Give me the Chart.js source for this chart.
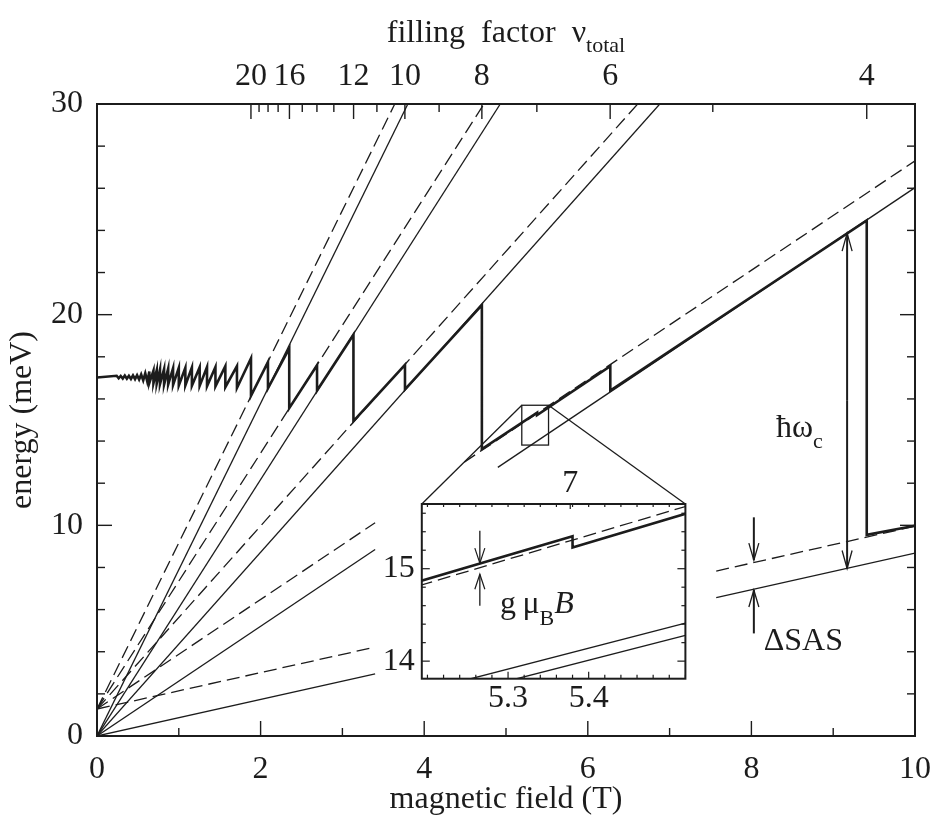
<!DOCTYPE html>
<html>
<head>
<meta charset="utf-8">
<script src="https://cdn.jsdelivr.net/npm/chart.js@4.4.1/dist/chart.umd.min.js"></script>
<style>
html,body{margin:0;padding:0;background:#fff;}
#wrap{position:relative;width:933px;height:822px;overflow:hidden;}
#main{position:absolute;left:0;top:0;}
#inset{position:absolute;left:340px;top:440px;}
</style>
</head>
<body>
<div id="wrap">
<canvas id="main" width="933" height="822"></canvas>
<canvas id="inset" width="360" height="290"></canvas>
</div>
<script>
// ---------------- data ----------------
const fieldTicks = [0, 2, 4, 6, 8, 10];          // magnetic field (T)
const energyTicks = [0, 10, 20, 30];              // energy (meV)
const nuTimesField = 37.64;
const nuLabeled = [20, 16, 12, 10, 8, 6, 4];
const nuMinor = [19, 18, 17, 15, 14, 13, 11, 9, 7, 5];

// Fermi energy (thick sawtooth)
const fermiB = [0, 0.24, 0.265, 0.29, 0.315, 0.34, 0.365, 0.39, 0.415, 0.44, 0.465, 0.49, 0.515, 0.54, 0.565, 0.59, 0.615,
  0.64, 0.64, 0.69, 0.69, 0.73, 0.73, 0.77, 0.77, 0.82, 0.82, 0.87, 0.87, 0.93, 0.93, 1.00, 1.00, 1.08, 1.08,
  1.16, 1.16, 1.255, 1.255, 1.345, 1.345, 1.448, 1.448, 1.569, 1.569, 1.711, 1.711, 1.8825, 1.8825, 2.09, 2.09,
  2.35, 2.35, 2.69, 2.69, 3.135, 3.135, 3.765, 3.765, 4.705, 4.705, 5.38, 5.38, 6.275, 6.275, 9.41, 9.41, 10];
const fermiE = [17.02, 17.10, 16.98, 17.09, 16.97, 17.11, 16.96, 17.10, 16.95, 17.12, 16.94, 17.13, 16.92, 17.16, 16.88, 17.22, 16.82,
  17.30, 16.76, 17.34, 16.74, 17.36, 16.72, 17.40, 16.70, 17.42, 16.68, 17.44, 16.68, 17.46, 16.66, 17.48, 16.64, 17.48, 16.64,
  17.50, 16.62, 17.50, 16.62, 17.52, 16.60, 17.52, 16.60, 17.56, 16.56, 17.56, 16.52, 17.93, 16.15, 17.75, 16.50,
  18.40, 15.56, 17.60, 16.40, 19.05, 14.95, 17.62, 16.45, 20.45, 13.62, 15.35, 15.23, 17.55, 16.40, 24.47, 9.55, 9.98];

// Landau levels: solid = symmetric (S), dashed = antisymmetric (A); [field, energy] end points
const levelS0 = [[0, 0], [3.40, 2.95]];
const levelS0high = [[7.57, 6.57], [10, 8.68]];
const levelS1 = [[0, 0], [3.40, 8.85]];
const levelS1high = [[4.90, 12.75], [10, 26.03]];
const levelS2 = [[0, 0], [6.88, 30]];
const levelS3 = [[0, 0], [4.93, 30]];
const levelS4 = [[0, 0], [3.80, 30]];
const levelA0 = [[0, 1.28], [3.40, 4.22]];
const levelA0high = [[7.57, 7.83], [10, 9.96]];
const levelA1 = [[0, 1.28], [3.40, 10.12]];
const levelA1high = [[4.49, 13.0], [10, 27.3]];
const levelA2 = [[0, 1.28], [6.61, 30]];
const levelA3 = [[0, 1.28], [4.73, 30]];
const levelA4 = [[0, 1.28], [3.64, 30]];

// inset (zoom near nu = 7)
const insetField = [5.193, 5.52];
const insetEnergy = [13.81, 15.70];
const insetFieldTicks = [5.3, 5.4];
const insetEnergyTicks = [14, 15];
const insetSpinUp = [[5.254, 13.81], [5.52, 14.41]];
const insetSpinDown = [[5.311, 13.81], [5.52, 14.28]];

// annotation arrows (field, energy from -> to)
const hbarArrow = [9.17, 7.95, 23.87];
const sasArrowTop = [8.03, 10.38, 8.35];
const sasArrowBottom = [8.03, 4.87, 6.93];
const gArrowTop = [5.265, 15.41, 15.06];
const gArrowBottom = [5.265, 14.60, 14.94];

// ---------------- styling ----------------
const FONT = "'Liberation Serif','Times New Roman',Times,serif";
const INK = '#1c1c1c';
const THIN = 1.3, THICK = 2.6, DASH = [13, 6];

function pts(arr) { return arr.map(p => ({x: p[0], y: p[1]})); }
function lineSet(arr, dashed, width) {
  return {data: pts(arr), showLine: true, pointRadius: 0, borderColor: INK, borderWidth: width || THIN,
    borderDash: dashed ? DASH : [], fill: false, tension: 0, borderJoinStyle: 'miter', borderCapStyle: 'butt'};
}
const fermiPoints = fermiB.map((b, i) => [b, fermiE[i]]);

function seg(ctx, x1, y1, x2, y2) { ctx.beginPath(); ctx.moveTo(x1, y1); ctx.lineTo(x2, y2); ctx.stroke(); }
function arrow(ctx, x, y0, y1, w, l, shaftW, headW) {
  ctx.lineWidth = shaftW; seg(ctx, x, y0, x, y1);
  const d = y1 > y0 ? -1 : 1;
  ctx.lineWidth = headW;
  ctx.beginPath(); ctx.moveTo(x - w, y1 + d * l); ctx.lineTo(x, y1); ctx.lineTo(x + w, y1 + d * l); ctx.stroke();
}
function subText(ctx, parts, x, y) {
  let cx = x;
  parts.forEach(p => {
    ctx.font = (p[3] ? 'italic ' : '') + p[1] + 'px ' + FONT;
    ctx.fillText(p[0], cx, y + p[2]);
    cx += ctx.measureText(p[0]).width;
  });
  return cx - x;
}

// ---------------- inset chart ----------------
const insetFrame = {
  id: 'insetFrame',
  beforeDraw(chart) {
    const a = chart.chartArea, ctx = chart.ctx;
    ctx.save(); ctx.fillStyle = '#fff'; ctx.fillRect(a.left, a.top, a.right - a.left, a.bottom - a.top); ctx.restore();
  },
  afterDraw(chart) {
    const a = chart.chartArea, ctx = chart.ctx, xs = chart.scales.x, ys = chart.scales.y;
    ctx.save();
    ctx.strokeStyle = INK; ctx.fillStyle = INK; ctx.lineWidth = 2;
    ctx.strokeRect(a.left, a.top, a.right - a.left, a.bottom - a.top);
    ctx.lineWidth = 1.2;
    for (let v = 13.8; v <= 15.71; v += 0.2) {
      const y = ys.getPixelForValue(v); if (y < a.top || y > a.bottom) continue;
      const major = Math.abs(v - Math.round(v)) < 1e-6; const L = major ? 8 : 4;
      seg(ctx, a.left, y, a.left + L, y); seg(ctx, a.right, y, a.right - L, y);
    }
    for (let v = 5.2; v <= 5.52; v += 0.02) {
      const x = xs.getPixelForValue(v); if (x < a.left || x > a.right) continue;
      const major = insetFieldTicks.some(t => Math.abs(t - v) < 1e-6); const L = major ? 7 : 4;
      seg(ctx, x, a.bottom, x, a.bottom - L); seg(ctx, x, a.top, x, a.top + 3);
    }
    const x7 = chart.scales.x2.getPixelForValue(nuTimesField / 7);
    seg(ctx, x7, a.top, x7, a.top + 5);
    [gArrowTop, gArrowBottom].forEach(ar => {
      arrow(ctx, xs.getPixelForValue(ar[0]), ys.getPixelForValue(ar[1]), ys.getPixelForValue(ar[2]), 5, 15, 1.3, 1.2);
    });
    ctx.textBaseline = 'alphabetic';
    subText(ctx, [['g\u2009', 32, 0], ['\u03bc', 32, 0], ['B', 22, 12], ['B', 32, 0, true]], xs.getPixelForValue(5.29), ys.getPixelForValue(14.52));
    ctx.restore();
  }
};

const insetChart = new Chart(document.getElementById('inset'), {
  type: 'scatter',
  data: {datasets: [
    lineSet(fermiPoints, false, THICK),
    lineSet(levelA1high, true),
    lineSet(insetSpinUp, false),
    lineSet(insetSpinDown, false)
  ]},
  options: {
    responsive: false, animation: false, devicePixelRatio: 1,
    layout: {padding: {left: 0, right: 14.6, top: 0, bottom: 0}},
    plugins: {legend: {display: false}, tooltip: {enabled: false}},
    scales: {
      x: {type: 'linear', position: 'bottom', min: insetField[0], max: insetField[1],
        afterBuildTicks(s) { s.ticks = insetFieldTicks.map(v => ({value: v})); },
        ticks: {callback: v => v.toFixed(1), font: {family: FONT, size: 32}, color: INK, padding: 0, maxRotation: 0, autoSkip: false},
        grid: {display: false, drawTicks: true, tickLength: 1}, border: {display: false},
        afterFit(s) { s.height = 51.3; }},
      x2: {type: 'linear', position: 'top', min: insetField[0], max: insetField[1],
        afterBuildTicks(s) { s.ticks = [{value: nuTimesField / 7}]; },
        ticks: {callback: () => '7', font: {family: FONT, size: 32}, color: INK, padding: 0, maxRotation: 0, autoSkip: false},
        grid: {display: false, drawTicks: true, tickLength: 1}, border: {display: false},
        afterFit(s) { s.height = 64; }},
      y: {type: 'linear', position: 'left', min: insetEnergy[0], max: insetEnergy[1],
        afterBuildTicks(s) { s.ticks = insetEnergyTicks.map(v => ({value: v})); },
        ticks: {callback: v => String(v), font: {family: FONT, size: 32}, color: INK, padding: 7},
        grid: {display: false, drawTicks: false}, border: {display: false},
        afterFit(s) { s.width = 81.8; }}
    }
  },
  plugins: [insetFrame]
});

// ---------------- main chart ----------------
const mainDecor = {
  id: 'mainDecor',
  afterDraw(chart) {
    const a = chart.chartArea, ctx = chart.ctx, xs = chart.scales.x, ys = chart.scales.y, xt = chart.scales.x2;
    ctx.save();
    ctx.strokeStyle = INK; ctx.fillStyle = INK;
    ctx.lineWidth = 2;
    ctx.strokeRect(a.left, a.top, a.right - a.left, a.bottom - a.top);
    ctx.lineWidth = 1.4;
    for (let v = 0; v <= 30; v += 2) {
      const y = ys.getPixelForValue(v); const L = v % 10 === 0 ? 15 : 8;
      seg(ctx, a.left, y, a.left + L, y); seg(ctx, a.right, y, a.right - L, y);
    }
    for (let v = 0; v <= 10; v += 1) {
      const x = xs.getPixelForValue(v); const L = v % 2 === 0 ? 15 : 8;
      seg(ctx, x, a.bottom, x, a.bottom - L);
    }
    nuLabeled.forEach(n => { const x = xt.getPixelForValue(nuTimesField / n); seg(ctx, x, a.top, x, a.top + 15); });
    nuMinor.forEach(n => { const x = xt.getPixelForValue(nuTimesField / n); seg(ctx, x, a.top, x, a.top + 8); });

    // zoom box and connectors to the inset
    const bx0 = xs.getPixelForValue(insetField[0]), bx1 = xs.getPixelForValue(insetField[1]);
    const by0 = ys.getPixelForValue(insetEnergy[1]), by1 = ys.getPixelForValue(insetEnergy[0]);
    ctx.lineWidth = 1.3;
    ctx.strokeRect(bx0, by0, bx1 - bx0, by1 - by0);
    const ia = insetChart.chartArea, ic = insetChart.canvas;
    const ox = ic.offsetLeft, oy = ic.offsetTop;
    seg(ctx, bx0, by0, ox + ia.left, oy + ia.top);
    seg(ctx, bx1, by0, ox + ia.right, oy + ia.top);

    // arrows
    const hx = xs.getPixelForValue(hbarArrow[0]), hm = ys.getPixelForValue((hbarArrow[1] + hbarArrow[2]) / 2);
    arrow(ctx, hx, hm, ys.getPixelForValue(hbarArrow[2]), 5, 18, 2, 1.3);
    arrow(ctx, hx, hm, ys.getPixelForValue(hbarArrow[1]), 5, 18, 2, 1.3);
    [sasArrowTop, sasArrowBottom].forEach(ar => {
      arrow(ctx, xs.getPixelForValue(ar[0]), ys.getPixelForValue(ar[1]), ys.getPixelForValue(ar[2]), 5, 17, 2, 1.3);
    });

    // labels
    ctx.textBaseline = 'alphabetic'; ctx.textAlign = 'left';
    subText(ctx, [['\u0127\u03c9', 32, 0], ['c', 22, 11]], xs.getPixelForValue(8.30), ys.getPixelForValue(14.2));
    subText(ctx, [['\u0394SAS', 32, 0]], xs.getPixelForValue(8.15), ys.getPixelForValue(4.1));

    // top title with subscript
    ctx.font = '32px ' + FONT;
    const t1 = 'filling  factor  \u03bd';
    const w1 = ctx.measureText(t1).width;
    ctx.font = '22px ' + FONT;
    const w2 = ctx.measureText('total').width;
    const cx = (a.left + a.right) / 2;
    subText(ctx, [[t1, 32, 0], ['total', 22, 10]], cx - (w1 + w2) / 2, 42);
    ctx.restore();
  }
};

const mainDatasets = [
  lineSet(fermiPoints, false, THICK),
  lineSet(levelS0, false), lineSet(levelS0high, false), lineSet(levelS1, false), lineSet(levelS1high, false),
  lineSet(levelS2, false), lineSet(levelS3, false), lineSet(levelS4, false),
  lineSet(levelA0, true), lineSet(levelA0high, true), lineSet(levelA1, true), lineSet(levelA1high, true),
  lineSet(levelA2, true), lineSet(levelA3, true), lineSet(levelA4, true)
];

new Chart(document.getElementById('main'), {
  type: 'scatter',
  data: {datasets: mainDatasets},
  options: {
    responsive: false, animation: false, devicePixelRatio: 1,
    layout: {padding: {left: 0, right: 18, top: 0, bottom: 0}},
    plugins: {legend: {display: false}, tooltip: {enabled: false}},
    scales: {
      x: {type: 'linear', position: 'bottom', min: fieldTicks[0], max: fieldTicks[fieldTicks.length - 1],
        afterBuildTicks(s) { s.ticks = fieldTicks.map(v => ({value: v})); },
        ticks: {callback: v => String(v), font: {family: FONT, size: 32}, color: INK, padding: 0, maxRotation: 0, autoSkip: false},
        grid: {display: false, drawTicks: true, tickLength: 14}, border: {display: false},
        title: {display: true, text: 'magnetic field (T)', font: {family: FONT, size: 32}, color: INK, padding: {top: 0, bottom: 3}},
        afterFit(s) { s.height = 86; }},
      x2: {type: 'linear', position: 'top', min: fieldTicks[0], max: fieldTicks[fieldTicks.length - 1],
        afterBuildTicks(s) { s.ticks = nuLabeled.map(n => ({value: nuTimesField / n})); },
        ticks: {callback: (v, i) => String(nuLabeled[i]), font: {family: FONT, size: 32}, color: INK, padding: 0, maxRotation: 0, autoSkip: false},
        grid: {display: false, drawTicks: true, tickLength: 8}, border: {display: false},
        afterFit(s) { s.height = 104; }},
      y: {type: 'linear', position: 'left', min: energyTicks[0], max: energyTicks[energyTicks.length - 1],
        afterBuildTicks(s) { s.ticks = energyTicks.map(v => ({value: v})); },
        ticks: {callback: v => String(v), font: {family: FONT, size: 32}, color: INK, padding: 14},
        grid: {display: false, drawTicks: false}, border: {display: false},
        title: {display: true, text: 'energy (meV)', font: {family: FONT, size: 32}, color: INK, padding: {top: 3, bottom: 0}},
        afterFit(s) { s.width = 97; }}
    }
  },
  plugins: [mainDecor]
});
</script>
</body>
</html>
